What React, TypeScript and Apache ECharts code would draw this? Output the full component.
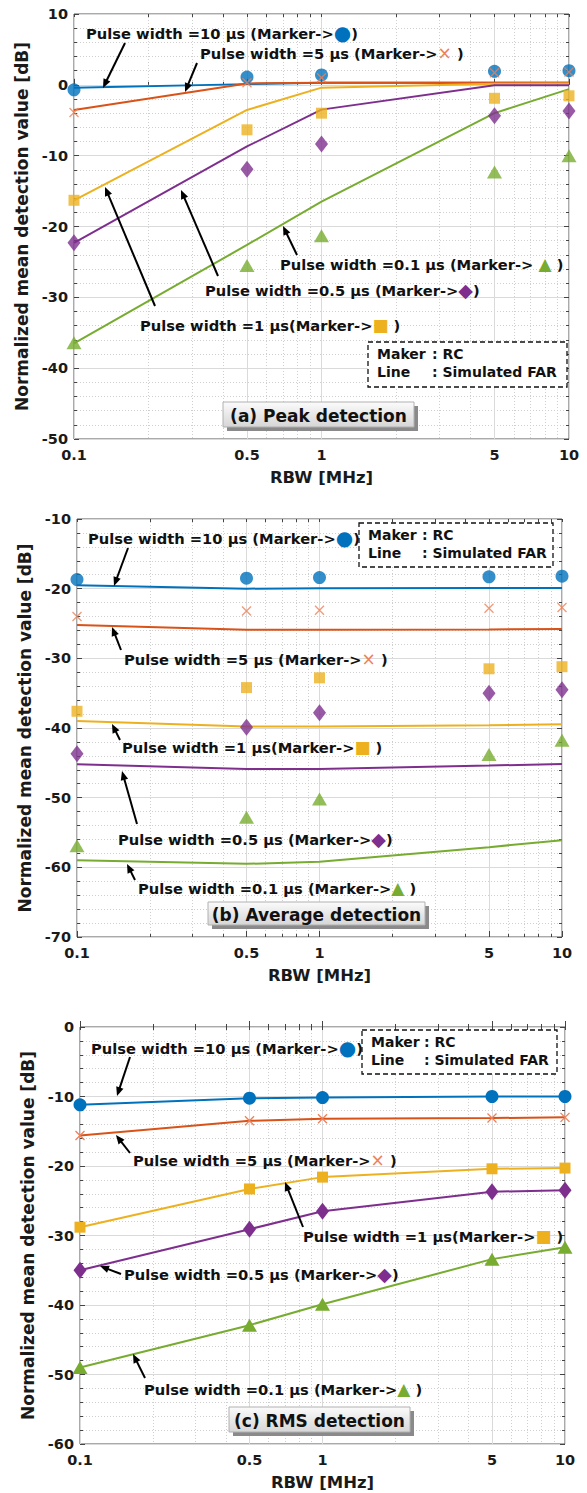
import React, { useEffect, useRef } from 'react';
import * as echarts from 'echarts';

// ---------- data ----------
const RBW = [0.1, 0.5, 1, 5, 10];
const X_LABELS = [0.1, 0.5, 1, 5, 10];
const X_MINOR = [0.2, 0.3, 0.4, 0.6, 0.7, 0.8, 0.9, 2, 3, 4, 6, 7, 8, 9];

// (a) Peak detection
const A_RC_10 = [-0.7, 1.1, 1.4, 1.9, 2.0];
const A_RC_5 = [-3.9, 0.3, 1.0, 1.7, 1.8];
const A_RC_1 = [-16.3, -6.35, -4.0, -1.9, -1.55];
const A_RC_05 = [-22.3, -11.9, -8.35, -4.35, -3.7];
const A_RC_01 = [-36.4, -25.5, -21.3, -12.3, -10.0];
const A_FAR_10 = [-0.4, 0.1, 0.3, 0.3, 0.3];
const A_FAR_5 = [-3.55, 0.2, 0.3, 0.3, 0.3];
const A_FAR_1 = [-16.3, -3.55, -0.4, 0.15, 0.2];
const A_FAR_05 = [-22.3, -8.7, -3.5, -0.05, -0.05];
const A_FAR_01 = [-36.5, -22.6, -16.5, -4.0, -0.6];

// (b) Average detection
const B_RC_10 = [-18.7, -18.5, -18.4, -18.3, -18.2];
const B_RC_5 = [-24.0, -23.2, -23.1, -22.8, -22.7];
const B_RC_1 = [-37.6, -34.2, -32.8, -31.5, -31.2];
const B_RC_05 = [-43.7, -39.9, -37.8, -35.0, -34.5];
const B_RC_01 = [-56.9, -52.8, -50.2, -43.8, -41.75];
const B_FAR_10 = [-19.5, -20.0, -19.95, -19.9, -19.9];
const B_FAR_5 = [-25.2, -25.9, -25.9, -25.85, -25.8];
const B_FAR_1 = [-39.0, -39.8, -39.8, -39.6, -39.45];
const B_FAR_05 = [-45.2, -45.9, -45.9, -45.4, -45.15];
const B_FAR_01 = [-59.0, -59.5, -59.2, -57.1, -56.1];

// (c) RMS detection
const C_10 = [-11.2, -10.25, -10.15, -10.0, -10.0];
const C_5 = [-15.6, -13.5, -13.2, -13.1, -13.0];
const C_1 = [-28.8, -23.3, -21.6, -20.4, -20.3];
const C_05 = [-35.0, -29.1, -26.5, -23.7, -23.5];
const C_01 = [-49.0, -42.9, -39.9, -33.4, -31.7];

const Y_RANGES = [[-50, 10], [-70, -10], [-60, 0]];
const PANEL_TITLES = ['(a) Peak detection', '(b) Average detection', '(c) RMS detection'];

// ---------- styles ----------
const FONT = 'DejaVu Sans';
const COL = {
  blue: '#0072BD',
  orange: '#D95319',
  orangeX: '#EE7F58',
  yellow: '#EDB120',
  purple: '#7E2F8E',
  green: '#77AC30',
};
const X_PATH = 'path://M0,0L10,10M10,0L0,10';

const GRIDS = [
  { left: 74, top: 14, width: 495, height: 425 },
  { left: 77, top: 519, width: 485, height: 418 },
  { left: 80, top: 1027, width: 485, height: 417 },
];

function zip(ys: number[]) {
  return RBW.map((x, i) => [x, ys[i]]);
}

function buildAxes() {
  const xAxis: any[] = [];
  const yAxis: any[] = [];
  GRIDS.forEach((_, i) => {
    const common = { gridIndex: i, type: 'log', logBase: 10, min: 0.1, max: 10 };
    xAxis.push({
      ...common,
      position: 'bottom',
      axisLine: { show: false },
      axisTick: { show: true, inside: true, length: 6, customValues: X_LABELS, lineStyle: { color: '#444' } },
      axisLabel: {
        customValues: X_LABELS,
        formatter: (v: number) => String(v),
        fontFamily: FONT, fontWeight: 'bold', fontSize: 14.5, color: '#1a1a1a', margin: 8,
      },
      splitLine: { show: true, lineStyle: { color: '#dadada', width: 1 } },
      name: 'RBW [MHz]',
      nameLocation: 'middle',
      nameGap: 30,
      nameTextStyle: { fontFamily: FONT, fontWeight: 'bold', fontSize: 16.5, color: '#1a1a1a' },
    });
    xAxis.push({
      ...common,
      position: 'bottom',
      axisLine: { show: false },
      axisTick: { show: true, inside: true, length: 3, customValues: X_MINOR, lineStyle: { color: '#444' } },
      axisLabel: { show: false, customValues: X_MINOR },
      splitLine: { show: true, lineStyle: { color: '#cfcfcf', width: 1, type: [1, 2] } },
    });
    xAxis.push({
      ...common,
      position: 'top',
      axisLine: { show: false },
      axisTick: { show: true, inside: true, length: 3, customValues: [...X_LABELS, ...X_MINOR], lineStyle: { color: '#444' } },
      axisLabel: { show: false, customValues: [...X_LABELS, ...X_MINOR] },
      splitLine: { show: false },
    });
    const [ymin, ymax] = Y_RANGES[i];
    yAxis.push({
      gridIndex: i,
      type: 'value',
      min: ymin,
      max: ymax,
      interval: 10,
      position: 'left',
      axisLine: { show: false },
      axisTick: { show: true, inside: true, length: 5, lineStyle: { color: '#444' } },
      minorTick: { show: true, splitNumber: 5, length: 3, lineStyle: { color: '#444' } },
      splitLine: { show: true, lineStyle: { color: '#dadada', width: 1 } },
      minorSplitLine: { show: true, lineStyle: { color: '#cfcfcf', width: 1, type: [1, 2] } },
      axisLabel: { fontFamily: FONT, fontWeight: 'bold', fontSize: 14.5, color: '#1a1a1a', margin: 6 },
      name: 'Normalized mean detection value [dB]',
      nameLocation: 'middle',
      nameGap: 41,
      nameTextStyle: { fontFamily: FONT, fontWeight: 'bold', fontSize: 17, color: '#1a1a1a' },
    });
    yAxis.push({
      gridIndex: i,
      type: 'value',
      min: ymin,
      max: ymax,
      interval: 10,
      position: 'right',
      axisLine: { show: false },
      axisTick: { show: true, inside: true, length: 5, lineStyle: { color: '#444' } },
      minorTick: { show: true, splitNumber: 5, length: 3, lineStyle: { color: '#444' } },
      splitLine: { show: false },
      axisLabel: { show: false },
    });
  });
  return { xAxis, yAxis };
}

type Mk = { symbol: string; size: any; color: string; stroke?: boolean };
const MARKERS: Mk[] = [
  { symbol: 'circle', size: 13, color: COL.blue },
  { symbol: X_PATH, size: 9, color: COL.orangeX, stroke: true },
  { symbol: 'rect', size: 11, color: COL.yellow },
  { symbol: 'diamond', size: [13, 17], color: COL.purple },
  { symbol: 'triangle', size: [15, 13], color: COL.green },
];
const LINE_COLORS = [COL.blue, COL.orange, COL.yellow, COL.purple, COL.green];

function markerItemStyle(m: Mk) {
  return m.stroke
    ? { color: 'transparent', borderColor: m.color, borderWidth: 1.3 }
    : { color: m.color, borderWidth: 0 };
}

function buildSeries() {
  const series: any[] = [];
  const farSets = [
    [A_FAR_10, A_FAR_5, A_FAR_1, A_FAR_05, A_FAR_01],
    [B_FAR_10, B_FAR_5, B_FAR_1, B_FAR_05, B_FAR_01],
  ];
  const rcSets = [
    [A_RC_10, A_RC_5, A_RC_1, A_RC_05, A_RC_01],
    [B_RC_10, B_RC_5, B_RC_1, B_RC_05, B_RC_01],
  ];
  for (let p = 0; p < 2; p++) {
    farSets[p].forEach((ys, k) => {
      series.push({
        type: 'line', xAxisIndex: p * 3, yAxisIndex: p * 2, data: zip(ys),
        showSymbol: false, symbol: 'none',
        lineStyle: { color: LINE_COLORS[k], width: 2 }, z: 3,
      });
    });
    rcSets[p].forEach((ys, k) => {
      const m = MARKERS[k];
      series.push({
        type: 'scatter', xAxisIndex: p * 3, yAxisIndex: p * 2, data: zip(ys),
        symbol: m.symbol, symbolSize: m.size, itemStyle: markerItemStyle(m), z: 4,
      });
    });
  }
  [C_10, C_5, C_1, C_05, C_01].forEach((ys, k) => {
    const m = MARKERS[k];
    series.push({
      type: 'line', xAxisIndex: 6, yAxisIndex: 4, data: zip(ys),
      showSymbol: true, symbol: m.symbol, symbolSize: m.size,
      itemStyle: markerItemStyle(m),
      lineStyle: { color: LINE_COLORS[k], width: 2 }, z: 3,
    });
  });
  return series;
}

// ---------- annotations ----------
const SYMS = ['●', '×', '■', '◆', '▲'];
const SYM_COLORS = [COL.blue, COL.orangeX, COL.yellow, COL.purple, COL.green];
const SYM_SIZES = [20, 17, 17, 19, 17];

function annText(x: number, y: number, pre: string, k: number, post: string) {
  return {
    type: 'text', x, y, z: 100,
    style: {
      text: `{t|${pre}}{s|${SYMS[k]}}{t|${post}}`,
      verticalAlign: 'middle',
      rich: {
        t: { fontFamily: FONT, fontWeight: 'bold', fontSize: 14.7, fill: '#111', verticalAlign: 'middle', lineHeight: 20 },
        s: { fontFamily: FONT, fontSize: SYM_SIZES[k], fill: SYM_COLORS[k], verticalAlign: 'middle', lineHeight: 20 },
      },
    },
  };
}

function arrow(x1: number, y1: number, x2: number, y2: number) {
  const dx = x2 - x1, dy = y2 - y1;
  const L = Math.hypot(dx, dy);
  const ux = dx / L, uy = dy / L;
  const hl = 9, hw = 3.8;
  const bx = x2 - ux * hl, by = y2 - uy * hl;
  return [
    { type: 'line', z: 100, shape: { x1, y1, x2: bx + ux, y2: by + uy }, style: { stroke: '#000', lineWidth: 2 } },
    {
      type: 'polygon', z: 100,
      shape: { points: [[x2, y2], [bx - uy * hw, by + ux * hw], [bx + uy * hw, by - ux * hw]] },
      style: { fill: '#000' },
    },
  ];
}

function legendBox(x: number, y: number, w: number, h: number, textX: number, colonX: number) {
  const ts = { fontFamily: FONT, fontWeight: 'bold', fontSize: 14, fill: '#111', verticalAlign: 'middle' };
  return [
    { type: 'rect', z: 90, shape: { x, y, width: w, height: h }, style: { fill: '#fff', stroke: '#111', lineWidth: 1.3, lineDash: [5, 3] } },
    { type: 'text', z: 100, x: textX, y: y + 12, style: { ...ts, text: 'Maker' } },
    { type: 'text', z: 100, x: colonX, y: y + 12, style: { ...ts, text: ': RC' } },
    { type: 'text', z: 100, x: textX, y: y + 30, style: { ...ts, text: 'Line' } },
    { type: 'text', z: 100, x: colonX, y: y + 30, style: { ...ts, text: ': Simulated FAR' } },
  ];
}

function titleBox(x: number, y: number, w: number, h: number, text: string) {
  return [
    { type: 'rect', z: 90, shape: { x: x + 4, y: y + 4, width: w, height: h }, style: { fill: '#8a8a8a' } },
    {
      type: 'rect', z: 91, shape: { x, y, width: w, height: h },
      style: {
        fill: new echarts.graphic.LinearGradient(0, 0, 0, 1, [
          { offset: 0, color: '#fbfbfb' },
          { offset: 1, color: '#d6d6d6' },
        ]),
        stroke: '#b0b0b0', lineWidth: 1,
      },
    },
    {
      type: 'text', z: 100, x: x + w / 2, y: y + h / 2 + 1,
      style: { text, fontFamily: FONT, fontWeight: 'bold', fontSize: 17, fill: '#111', align: 'center', verticalAlign: 'middle' },
    },
  ];
}

function buildGraphics() {
  const g: any[] = [];
  // (a)
  g.push(annText(86, 33, 'Pulse width =10 μs (Marker->', 0, ')'));
  g.push(annText(200, 53, 'Pulse width =5 μs (Marker->', 1, ' )'));
  g.push(annText(280, 264, 'Pulse width =0.1 μs (Marker-> ', 4, ' )'));
  g.push(annText(205, 290, 'Pulse width =0.5 μs (Marker->', 3, ')'));
  g.push(annText(140, 325, 'Pulse width =1 μs(Marker->', 2, ' )'));
  g.push(...arrow(125, 43, 103, 88));
  g.push(...arrow(197, 63, 185, 92));
  g.push(...arrow(297, 255, 283, 226));
  g.push(...arrow(218, 276, 181, 190));
  g.push(...arrow(155, 306, 105, 187));
  g.push(...legendBox(368, 342, 199, 45, 377, 432));
  g.push(...titleBox(223, 402, 191, 25, PANEL_TITLES[0]));
  // (b)
  g.push(annText(88, 538, 'Pulse width =10 μs (Marker->', 0, ')'));
  g.push(annText(124, 659, 'Pulse width =5 μs (Marker->', 1, ' )'));
  g.push(annText(122, 747, 'Pulse width =1 μs(Marker->', 2, ' )'));
  g.push(annText(118, 839, 'Pulse width =0.5 μs (Marker->', 3, ')'));
  g.push(annText(138, 888, 'Pulse width =0.1 μs (Marker->', 4, ' )'));
  g.push(...arrow(128, 548, 114, 586));
  g.push(...arrow(121, 650, 112, 627));
  g.push(...arrow(120, 740, 112, 724));
  g.push(...arrow(137, 824, 122, 771));
  g.push(...arrow(135, 880, 127, 864));
  g.push(...legendBox(359, 523, 194, 44, 368, 422));
  g.push(...titleBox(208, 902, 217, 23, PANEL_TITLES[1]));
  // (c)
  g.push(annText(91, 1048, 'Pulse width =10 μs (Marker->', 0, ')'));
  g.push(annText(133, 1160, 'Pulse width =5 μs (Marker->', 1, ' )'));
  g.push(annText(303, 1236, 'Pulse width =1 μs(Marker->', 2, ' )'));
  g.push(annText(124, 1274, 'Pulse width =0.5 μs (Marker->', 3, ')'));
  g.push(annText(144, 1389, 'Pulse width =0.1 μs (Marker->', 4, ' )'));
  g.push(...arrow(130, 1057, 117, 1096));
  g.push(...arrow(130, 1153, 116, 1135));
  g.push(...arrow(303, 1227, 285, 1182));
  g.push(...arrow(121, 1274, 100, 1266));
  g.push(...arrow(145, 1378, 133, 1354));
  g.push(...legendBox(362, 1030, 195, 44, 371, 424));
  g.push(...titleBox(229, 1407, 181, 25, PANEL_TITLES[2]));
  return g;
}

export default function App() {
  const ref = useRef<HTMLDivElement>(null);
  useEffect(() => {
    document.body.style.margin = '0';
    if (!ref.current) return;
    const chart = echarts.init(ref.current, null, { renderer: 'svg' });
    const { xAxis, yAxis } = buildAxes();
    chart.setOption({
      animation: false,
      backgroundColor: '#ffffff',
      grid: GRIDS.map((g) => ({ ...g, show: true, borderColor: '#555', borderWidth: 1, backgroundColor: 'transparent', containLabel: false })),
      xAxis,
      yAxis,
      series: buildSeries(),
      graphic: { elements: buildGraphics() },
    });
    return () => chart.dispose();
  }, []);
  return <div ref={ref} style={{ width: 587, height: 1493 }} />;
}
